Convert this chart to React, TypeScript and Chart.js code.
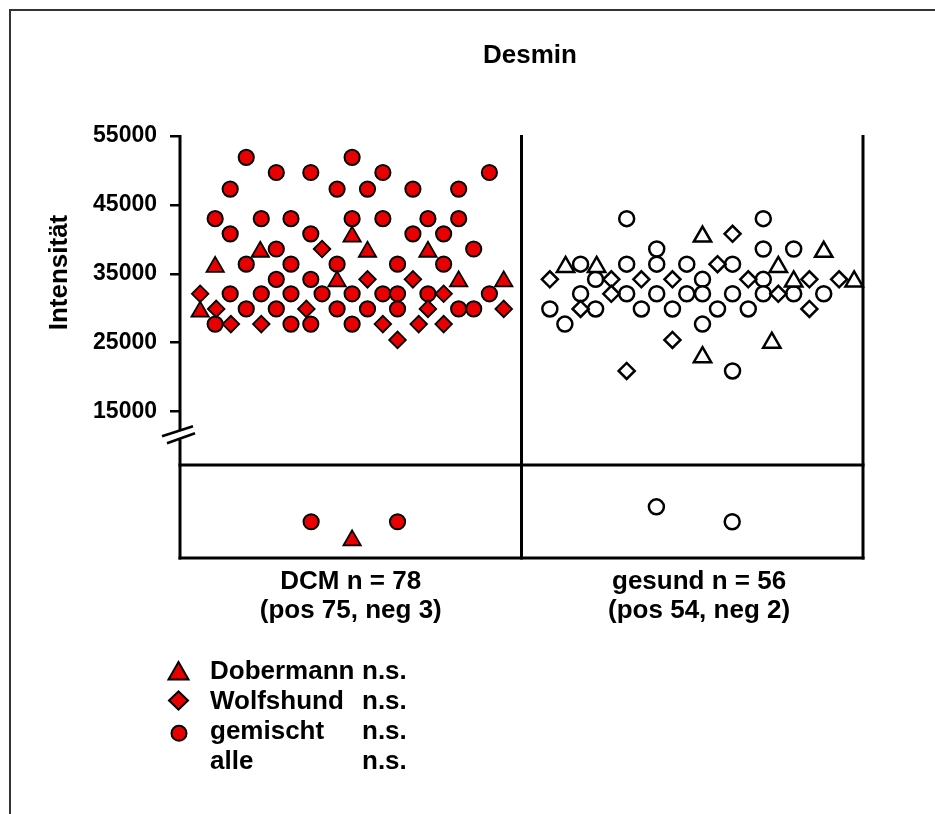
import React, { useEffect, useRef } from 'react';
import { Chart, registerables } from 'chart.js';

Chart.register(...registerables);

const FONT = '"Liberation Sans", Arial, Helvetica, sans-serif';
const RED = '#e80000';

const TITLE = 'Desmin';
const Y_TITLE = 'Intensität';
const Y_TICKS = [15000, 25000, 35000, 45000, 55000];
const Y_MAX = 55000;
const Y_MIN = 7250;
const BREAK_VALUE = 12000;
const CATEGORY_POSITIONS = [0.5, 1.52];
const CATEGORY_LABELS = [
  ['DCM n = 78', '(pos 75, neg 3)'],
  ['gesund n = 56', '(pos 54, neg 2)'],
];
const LEGEND_NAMES = ['Dobermann', 'Wolfshund', 'gemischt', 'alle'];
const LEGEND_SIG = ['n.s.', 'n.s.', 'n.s.', 'n.s.'];

// DCM (positive) — x in category units (DCM 0..1), y = intensity
const dcmDobermannX = [0.235, 0.103, 0.46, 0.059, 0.504, 0.549, 0.726, 0.816, 0.948];
const dcmDobermannY = [38200, 36000, 33900, 29500, 40400, 38200, 38200, 33900, 33900];

const dcmWolfshundX = [0.416, 0.059, 0.106, 0.37, 0.149, 0.238, 0.549, 0.682, 0.772, 0.726, 0.948, 0.594, 0.699, 0.772, 0.637];
const dcmWolfshundY = [38600, 32100, 29900, 29900, 27700, 27700, 34200, 34200, 32100, 29900, 29900, 27700, 27700, 27700, 25400];

const dcmGemischtX = [
  0.194, 0.504, 0.282, 0.383, 0.594, 0.906, 0.147, 0.46, 0.549, 0.682,
  0.816, 0.103, 0.238, 0.325, 0.504, 0.594, 0.726, 0.816, 0.147, 0.383,
  0.682, 0.772, 0.282, 0.86, 0.194, 0.325, 0.46, 0.637, 0.772, 0.282,
  0.383, 0.147, 0.238, 0.325, 0.416, 0.504, 0.594, 0.637, 0.726, 0.906,
  0.194, 0.282, 0.46, 0.549, 0.637, 0.816, 0.86, 0.103, 0.325, 0.383,
  0.504,
];
const dcmGemischtY = [
  51900, 51900, 49700, 49700, 49700, 49700, 47300, 47300, 47300, 47300,
  47300, 43000, 43000, 43000, 43000, 43000, 43000, 43000, 40800, 40800,
  40800, 40800, 38600, 38600, 36400, 36400, 36400, 36400, 36400, 34200,
  34200, 32100, 32100, 32100, 32100, 32100, 32100, 32100, 32100, 32100,
  29900, 29900, 29900, 29900, 29900, 29900, 29900, 27700, 27700, 27700,
  27700,
];

// gesund (positive)
const gesundDobermannX = [1.129, 1.22, 1.53, 1.885, 1.752, 1.797, 1.974, 1.733, 1.53];
const gesundDobermannY = [36000, 36000, 40400, 38200, 36000, 33900, 33900, 25000, 22900];

const gesundWolfshundX = [1.083, 1.263, 1.351, 1.442, 1.263, 1.173, 1.442, 1.308, 1.618, 1.574, 1.664, 1.843, 1.93, 1.752, 1.843];
const gesundWolfshundY = [34200, 34200, 34200, 34200, 32100, 29900, 25400, 20900, 40800, 36400, 34200, 34200, 34200, 32100, 29900];

const gesundGemischtX = [
  1.308, 1.708, 1.396, 1.708, 1.797, 1.173, 1.308, 1.396, 1.484, 1.618,
  1.217, 1.53, 1.708, 1.173, 1.308, 1.396, 1.484, 1.53, 1.618, 1.708,
  1.797, 1.885, 1.083, 1.217, 1.351, 1.442, 1.574, 1.664, 1.127, 1.53,
  1.618,
];
const gesundGemischtY = [
  43000, 43000, 38600, 38600, 38600, 36400, 36400, 36400, 36400, 36400,
  34200, 34200, 34200, 32100, 32100, 32100, 32100, 32100, 32100, 32100,
  32100, 32100, 29900, 29900, 29900, 29900, 29900, 29900, 27700, 27700,
  20900,
];

// negative samples (lower panel, arbitrary position 0..100)
const dcmNegDobermannX = [0.504];
const dcmNegDobermannY = [19];
const dcmNegGemischtX = [0.384, 0.637];
const dcmNegGemischtY = [39, 39];
const gesundNegGemischtX = [1.395, 1.617];
const gesundNegGemischtY = [55, 39];

function zip(xs: number[], ys: number[]) {
  return xs.map((x, i) => ({ x, y: ys[i] }));
}

function ds(label: string, xs: number[], ys: number[], style: string, fill: string, radius: number, bw: number, axis = 'y') {
  return {
    label,
    data: zip(xs, ys),
    yAxisID: axis,
    pointStyle: style,
    pointRadius: radius,
    pointHoverRadius: radius,
    pointBackgroundColor: fill,
    backgroundColor: fill,
    pointBorderColor: '#000',
    borderColor: '#000',
    pointBorderWidth: bw,
    borderWidth: bw,
    clip: false,
  };
}

const decorPlugin = {
  id: 'decor',
  beforeDatasetsDraw(chart: any) {
    const ctx = chart.ctx;
    const xs = chart.scales.x;
    const ys = chart.scales.y;
    const ys2 = chart.scales.y2;
    const left = xs.getPixelForValue(0);
    const mid = xs.getPixelForValue(1);
    const right = xs.getPixelForValue(2);
    const top = ys.getPixelForValue(Y_MAX);
    const split = ys.bottom;
    const bottom = ys2.bottom;
    const brk = ys.getPixelForValue(BREAK_VALUE);
    ctx.save();
    ctx.strokeStyle = '#000';
    ctx.lineCap = 'butt';
    ctx.lineWidth = 3;
    const line = (x1: number, y1: number, x2: number, y2: number) => {
      ctx.beginPath();
      ctx.moveTo(x1, y1);
      ctx.lineTo(x2, y2);
      ctx.stroke();
    };
    // y axis with break
    line(left, top - 1, left, brk - 2);
    line(left, brk + 7, left, bottom + 1.5);
    line(mid, top - 1, mid, bottom + 1.5);
    line(right, top - 1, right, bottom + 1.5);
    line(left - 1.5, split, right + 1.5, split);
    line(left - 1.5, bottom, right + 1.5, bottom);
    ctx.lineWidth = 2.5;
    line(left - 18, brk + 4, left + 13, brk - 6);
    line(left - 13, brk + 11, left + 15, brk + 1);
    ctx.restore();
  },
  afterDraw(chart: any) {
    const ctx = chart.ctx;
    ctx.save();
    // outer frame
    ctx.strokeStyle = '#333';
    ctx.lineWidth = 2;
    ctx.beginPath();
    ctx.moveTo(10, 814);
    ctx.lineTo(10, 10);
    ctx.lineTo(935, 10);
    ctx.stroke();

    ctx.fillStyle = '#000';
    // title
    ctx.font = `bold 26px ${FONT}`;
    ctx.textAlign = 'center';
    ctx.textBaseline = 'alphabetic';
    ctx.fillText(TITLE, 530, 63);
    // y title
    ctx.save();
    ctx.translate(66.5, 272.5);
    ctx.rotate(-Math.PI / 2);
    ctx.fillText(Y_TITLE, 0, 0);
    ctx.restore();

    // legend
    const rowBase = [679, 709, 739, 769];
    ctx.font = `bold 26px ${FONT}`;
    ctx.textAlign = 'left';
    LEGEND_NAMES.forEach((n, i) => {
      ctx.fillText(n, 210, rowBase[i]);
      ctx.fillText(LEGEND_SIG[i], 362, rowBase[i]);
    });
    ctx.fillStyle = RED;
    ctx.strokeStyle = '#000';
    ctx.lineWidth = 2;
    // triangle
    ctx.beginPath();
    ctx.moveTo(178.5, 662);
    ctx.lineTo(188.5, 679.5);
    ctx.lineTo(168.5, 679.5);
    ctx.closePath();
    ctx.fill();
    ctx.stroke();
    // diamond
    ctx.beginPath();
    ctx.moveTo(169, 700.5);
    ctx.lineTo(178.5, 691.5);
    ctx.lineTo(188, 700.5);
    ctx.lineTo(178.5, 709.5);
    ctx.closePath();
    ctx.fill();
    ctx.stroke();
    // circle
    ctx.beginPath();
    ctx.arc(179, 733.3, 7.5, 0, Math.PI * 2);
    ctx.fill();
    ctx.stroke();
    ctx.restore();
  },
};

export default function App() {
  const ref = useRef<HTMLCanvasElement>(null);
  useEffect(() => {
    if (!ref.current) return;
    const chart = new Chart(ref.current, {
      type: 'scatter',
      data: {
        datasets: [
          ds('DCM Dobermann', dcmDobermannX, dcmDobermannY, 'triangle', RED, 10, 1.8),
          ds('DCM Wolfshund', dcmWolfshundX, dcmWolfshundY, 'rectRot', RED, 8.3, 1.8),
          ds('DCM gemischt', dcmGemischtX, dcmGemischtY, 'circle', RED, 7.6, 2),
          ds('DCM neg Dobermann', dcmNegDobermannX, dcmNegDobermannY, 'triangle', RED, 10, 1.8, 'y2'),
          ds('DCM neg gemischt', dcmNegGemischtX, dcmNegGemischtY, 'circle', RED, 7.6, 2, 'y2'),
          ds('gesund Dobermann', gesundDobermannX, gesundDobermannY, 'triangle', '#fff', 10, 2.5),
          ds('gesund Wolfshund', gesundWolfshundX, gesundWolfshundY, 'rectRot', '#fff', 8, 2.5),
          ds('gesund gemischt', gesundGemischtX, gesundGemischtY, 'circle', '#fff', 7.5, 2.5),
          ds('gesund neg gemischt', gesundNegGemischtX, gesundNegGemischtY, 'circle', '#fff', 7.5, 2.5, 'y2'),
        ] as any,
      },
      options: {
        animation: false,
        responsive: false,
        devicePixelRatio: 1,
        events: [],
        layout: { padding: { left: 0, top: 136, right: 72, bottom: 176 } },
        plugins: {
          legend: { display: false },
          title: { display: false },
          tooltip: { enabled: false },
        },
        scales: {
          x: {
            type: 'linear',
            min: 0,
            max: 2,
            grid: { display: false, drawTicks: false },
            border: { display: false },
            afterBuildTicks: (axis: any) => {
              axis.ticks = CATEGORY_POSITIONS.map((v) => ({ value: v }));
            },
            afterFit: (scale: any) => {
              scale.height = 80;
            },
            ticks: {
              autoSkip: false,
              maxRotation: 0,
              padding: 10,
              color: '#000',
              font: { family: FONT, size: 26, weight: 'bold', lineHeight: 1.1 },
              callback: (_v: any, i: number) => CATEGORY_LABELS[i],
            },
          },
          y: {
            type: 'linear',
            position: 'left',
            stack: 'left',
            stackWeight: 329,
            weight: 1,
            min: Y_MIN,
            max: Y_MAX,
            afterBuildTicks: (axis: any) => {
              axis.ticks = Y_TICKS.map((v) => ({ value: v }));
            },
            afterFit: (scale: any) => {
              scale.width = 180;
            },
            grid: {
              display: true,
              drawOnChartArea: false,
              drawTicks: true,
              tickLength: 10,
              color: '#000',
              lineWidth: 2.5,
            },
            border: { display: false },
            ticks: {
              padding: 13,
              color: '#000',
              font: { family: FONT, size: 23, weight: 'bold' },
              callback: (v: any) => String(v),
            },
          },
          y2: {
            type: 'linear',
            position: 'left',
            stack: 'left',
            stackWeight: 93,
            weight: 0,
            min: 0,
            max: 100,
            display: false,
          },
        } as any,
      },
      plugins: [decorPlugin],
    });
    return () => chart.destroy();
  }, []);
  return (
    <div style={{ position: 'fixed', left: 0, top: 0, width: 935, height: 814, background: '#fff' }}>
      <canvas ref={ref} width={935} height={814} style={{ display: 'block' }} />
    </div>
  );
}
